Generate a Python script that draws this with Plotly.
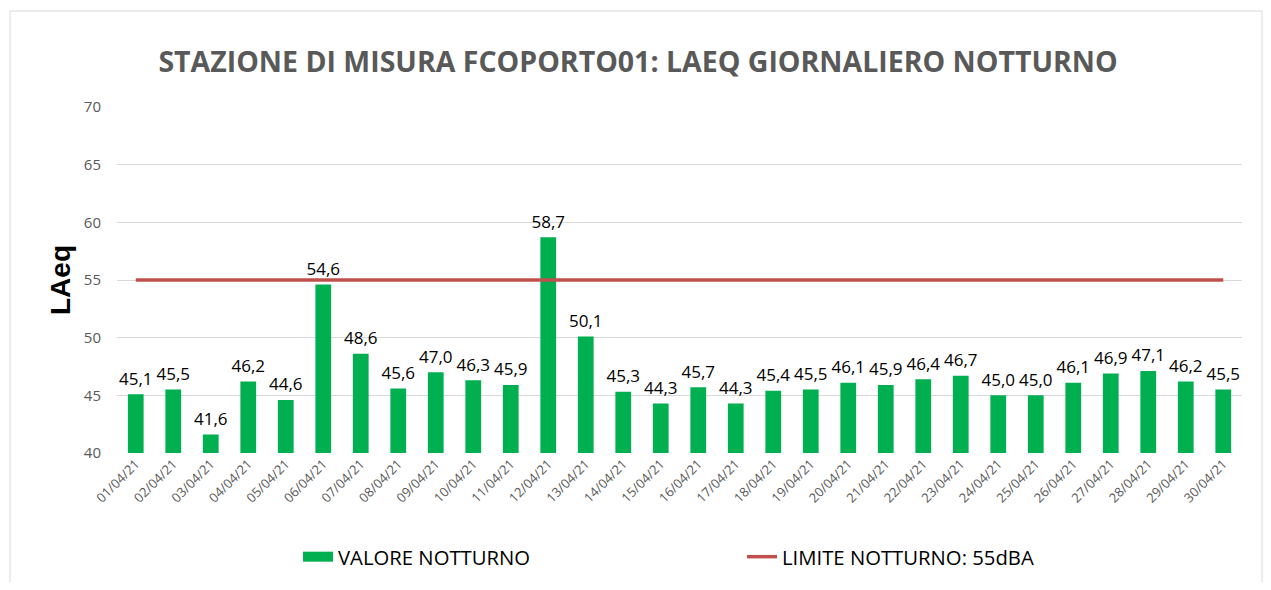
import plotly.graph_objects as go

dates = ["01/04/21", "02/04/21", "03/04/21", "04/04/21", "05/04/21", "06/04/21",
         "07/04/21", "08/04/21", "09/04/21", "10/04/21", "11/04/21", "12/04/21",
         "13/04/21", "14/04/21", "15/04/21", "16/04/21", "17/04/21", "18/04/21",
         "19/04/21", "20/04/21", "21/04/21", "22/04/21", "23/04/21", "24/04/21",
         "25/04/21", "26/04/21", "27/04/21", "28/04/21", "29/04/21", "30/04/21"]
valore_notturno = [45.1, 45.5, 41.6, 46.2, 44.6, 54.6, 48.6, 45.6, 47.0, 46.3,
                   45.9, 58.7, 50.1, 45.3, 44.3, 45.7, 44.3, 45.4, 45.5, 46.1,
                   45.9, 46.4, 46.7, 45.0, 45.0, 46.1, 46.9, 47.1, 46.2, 45.5]
limite_notturno = [55] * len(dates)
y_ticks = [40, 45, 50, 55, 60, 65, 70]

labels = [f"{v:.1f}".replace(".", ",") for v in valore_notturno]

FONT = "Open Sans"
GREEN = "#00B050"

fig = go.Figure()
fig.add_trace(go.Bar(
    x=dates, y=valore_notturno, name="VALORE NOTTURNO", showlegend=False,
    marker=dict(color=GREEN, line=dict(width=0)),
    hoverinfo="x+y",
))
# legend proxy for the bar series (wide green swatch)
fig.add_trace(go.Scatter(
    x=[None], y=[None], name="VALORE NOTTURNO", mode="lines",
    line=dict(color=GREEN, width=13), hoverinfo="skip",
))
fig.add_trace(go.Scatter(
    x=dates, y=limite_notturno, name="LIMITE NOTTURNO: 55dBA",
    mode="lines", line=dict(color="#C0504D", width=3.5),
))
# data labels above the bars
fig.add_trace(go.Scatter(
    x=dates, y=valore_notturno, mode="markers+text", text=labels,
    textposition="top center", showlegend=False, hoverinfo="skip",
    marker=dict(size=7, color="rgba(0,0,0,0)"),
    textfont=dict(family=FONT, size=17, color="#000000"),
    cliponaxis=False,
))

W, H = 1255, 574
fig.update_layout(
    width=W, height=H,
    paper_bgcolor="white", plot_bgcolor="white",
    margin=dict(l=109, r=21, t=99, b=129),
    bargap=0.58,
    title=dict(text="<b>STAZIONE DI MISURA FCOPORTO01: LAEQ GIORNALIERO NOTTURNO</b>",
               x=0.502, xanchor="center", y=0.906, yanchor="middle",
               font=dict(family=FONT, size=28.5, color="#595959")),
    showlegend=True,
    legend=dict(orientation="h", x=0.2311, xref="container", y=0.0436, yref="container",
                yanchor="middle", xanchor="left",
                font=dict(family=FONT, size=20.3, color="#000000"),
                entrywidth=399, traceorder="normal"),
    font=dict(family=FONT),
)
fig.update_xaxes(
    type="category", tickangle=-45, showgrid=False, showline=False,
    range=[-0.5, len(dates) - 0.5], autorange=False,
    tickfont=dict(family=FONT, size=13, color="#595959"),
)
fig.update_yaxes(
    range=[40, 70], tickvals=y_ticks, showgrid=True, gridcolor="#D9D9D9", gridwidth=1,
    zeroline=False, showline=False, ticklabelstandoff=15,
    tickfont=dict(family=FONT, size=15, color="#595959"),
    title=dict(text="<b>LAeq</b>", font=dict(family="Liberation Sans", size=28, color="#000000"),
               standoff=5),
)
fig.add_shape(type="rect", xref="paper", yref="paper",
              x0=-0.0951, x1=1.0178, y0=-0.45, y1=1.2775,
              line=dict(color="#D9D9D9", width=1), fillcolor="rgba(0,0,0,0)", layer="below")

fig.write_html("out.html")
